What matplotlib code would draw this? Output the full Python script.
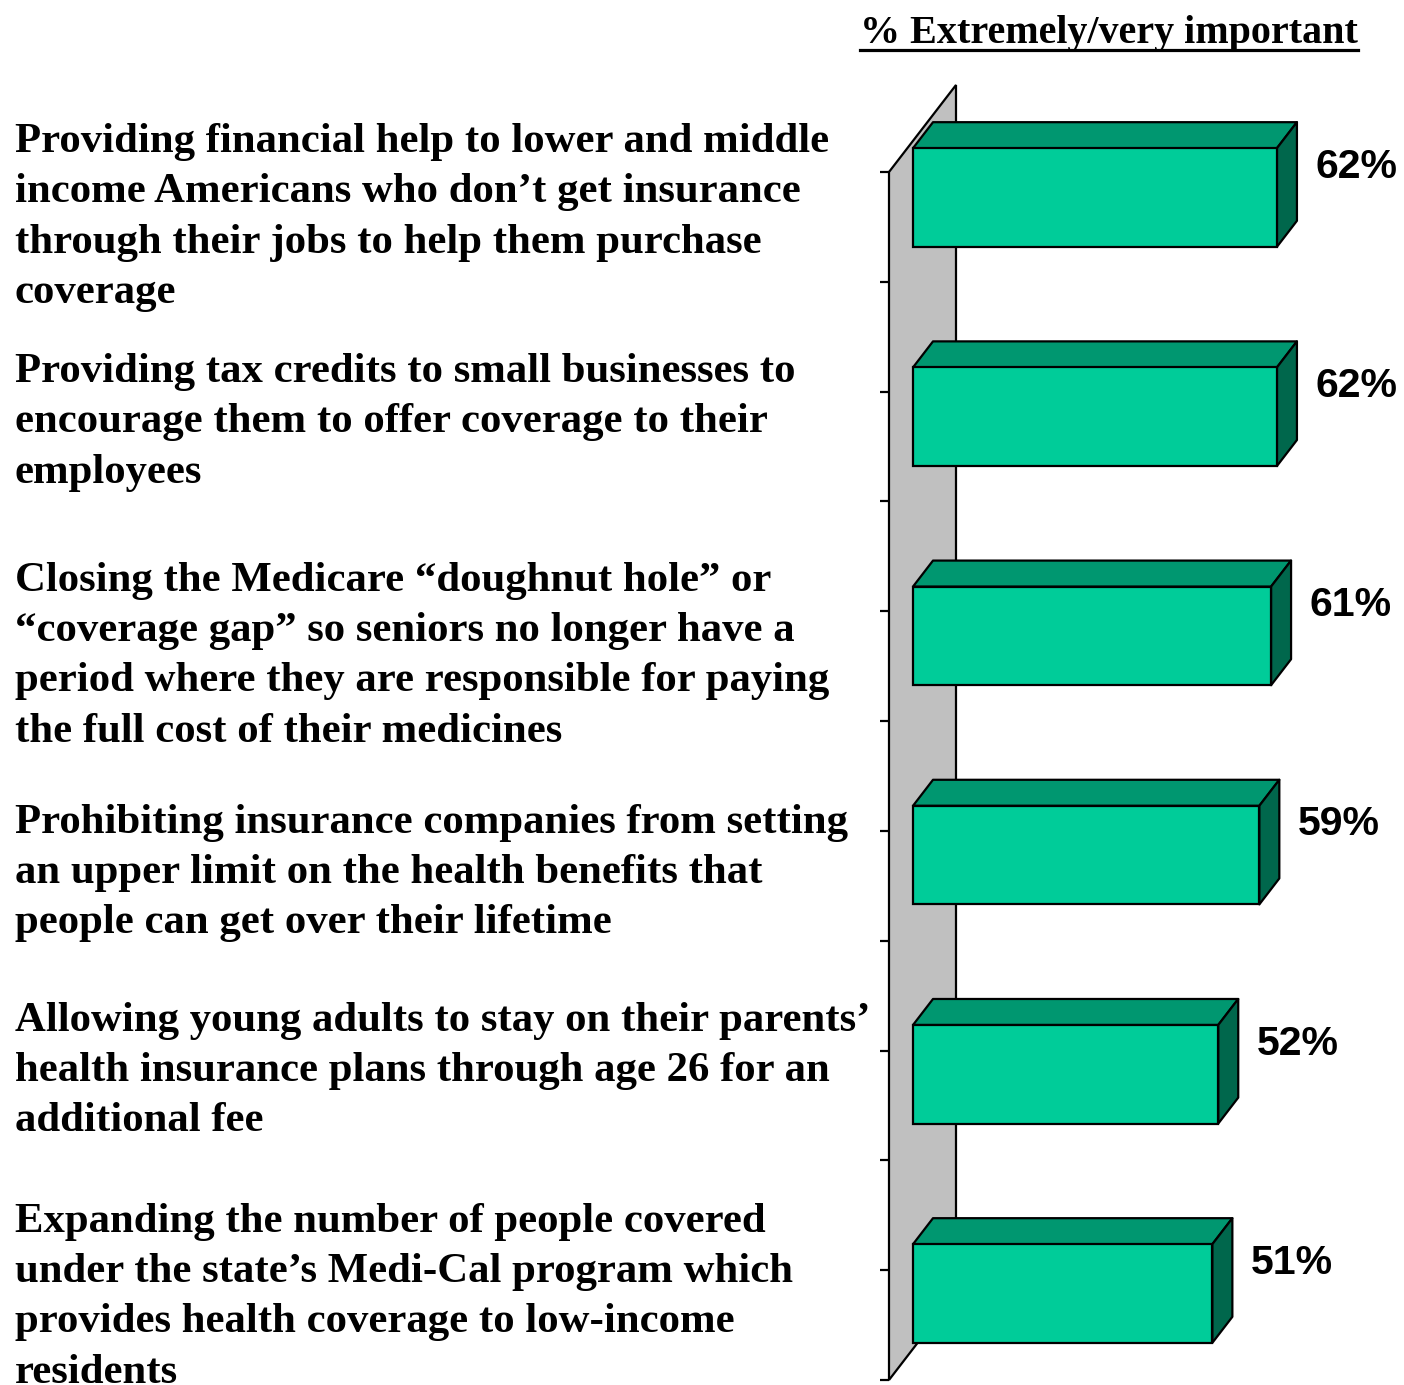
import numpy as np
import matplotlib
matplotlib.use("Agg")
import matplotlib.pyplot as plt
from matplotlib.patches import Polygon
from matplotlib.lines import Line2D

# --- data -------------------------------------------------------------
items = [
    "Providing financial help to lower and middle\nincome Americans who don\u2019t get insurance\nthrough their jobs to help them purchase\ncoverage",
    "Providing tax credits to small businesses to\nencourage them to offer coverage to their\nemployees",
    "Closing the Medicare \u201cdoughnut hole\u201d or\n\u201ccoverage gap\u201d so seniors no longer have a\nperiod where they are responsible for paying\nthe full cost of their medicines",
    "Prohibiting insurance companies from setting\nan upper limit on the health benefits that\npeople can get over their lifetime",
    "Allowing young adults to stay on their parents\u2019\nhealth insurance plans through age 26 for an\nadditional fee",
    "Expanding the number of people covered\nunder the state\u2019s Medi-Cal program which\nprovides health coverage to low-income\nresidents",
]
pct_important = [62, 62, 61, 59, 52, 51]
title = "% Extremely/very important"

# --- layout / style ----------------------------------------------------
W, H = 1404, 1385
FRONT = "#00CC99"
TOP = "#009770"
SIDE = "#00674C"
WALL = "#C0C0C0"
EDGE_LW = 1.6

px_per_pct = 5.87          # horizontal scale
px_per_cat = 219.2         # vertical spacing of categories
x0_px, y0_px = 913, 197.5  # zero of value axis, centre of first category

bar_h = 0.45               # bar thickness (category units)
ddx = 20 / px_per_pct      # oblique depth of a bar
ddy = -26 / px_per_cat

wall_x_front = (889 - x0_px) / px_per_pct
wall_x_back = (956 - x0_px) / px_per_pct
wall_y_top = (172 - y0_px) / px_per_cat
wall_y_bot = (1380 - y0_px) / px_per_cat
wall_dy = -87 / px_per_cat
tick_len = 9 / px_per_pct

label_nudge = [0.091, 0.026, 0.093, 0.082, -0.015, 0.017]

plt.rcParams["font.family"] = ["Liberation Serif", "DejaVu Serif"]

fig = plt.figure(figsize=(W / 100, H / 100), dpi=100)
ax = fig.add_axes([0, 0, 1, 1])
ax.set_xlim(-x0_px / px_per_pct, (W - x0_px) / px_per_pct)
ax.set_ylim((H - y0_px) / px_per_cat, -y0_px / px_per_cat)
ax.axis("off")

# side wall (value-axis zero plane)
wall = Polygon(
    [(wall_x_front, wall_y_top), (wall_x_back, wall_y_top + wall_dy),
     (wall_x_back, wall_y_bot + wall_dy), (wall_x_front, wall_y_bot)],
    closed=True, facecolor=WALL, edgecolor="black", lw=EDGE_LW, zorder=1)
ax.add_patch(wall)

# category ticks on the wall's front edge
for ty in np.linspace(wall_y_top, wall_y_bot, 12):
    ax.plot([wall_x_front - tick_len, wall_x_front], [ty, ty],
            color="black", lw=EDGE_LW, solid_capstyle="butt", zorder=1)

ypos = np.arange(len(pct_important))

# front faces
ax.barh(ypos, pct_important, height=bar_h, left=0, color=FRONT,
        edgecolor="black", linewidth=EDGE_LW, zorder=3)

# top and side faces
for y, v in zip(ypos, pct_important):
    top_y = y - bar_h / 2
    bot_y = y + bar_h / 2
    ax.add_patch(Polygon([(0, top_y), (ddx, top_y + ddy), (v + ddx, top_y + ddy), (v, top_y)],
                         closed=True, facecolor=TOP, edgecolor="black", lw=EDGE_LW,
                         joinstyle="round", zorder=2))
    ax.add_patch(Polygon([(v, top_y), (v + ddx, top_y + ddy), (v + ddx, bot_y + ddy), (v, bot_y)],
                         closed=True, facecolor=SIDE, edgecolor="black", lw=EDGE_LW,
                         joinstyle="round", zorder=2))
    ax.text(v + ddx + 3.1, y - 0.14, f"{v}%", ha="left", va="center",
            fontsize=29.5, fontweight="bold", family=["Liberation Sans", "DejaVu Sans"],
            zorder=4)

# category labels
ytrans = ax.get_yaxis_transform()
for y, txt, dn in zip(ypos, items, label_nudge):
    ax.text(15 / W, y + dn, txt, transform=ytrans, ha="left", va="center",
            fontsize=30.8, fontweight="bold", linespacing=1.425, zorder=4)

# underlined column heading
t = fig.text(860 / W, 1 - 43 / H, title, ha="left", va="baseline",
             fontsize=28.9, fontweight="bold")
fig.canvas.draw()
bb = t.get_window_extent()
uy = (H - 50) / H
fig.add_artist(Line2D([bb.x0 / W, bb.x1 / W], [uy, uy], color="black", lw=2.3,
                      transform=fig.transFigure))

fig.savefig("out.png", dpi=100)
